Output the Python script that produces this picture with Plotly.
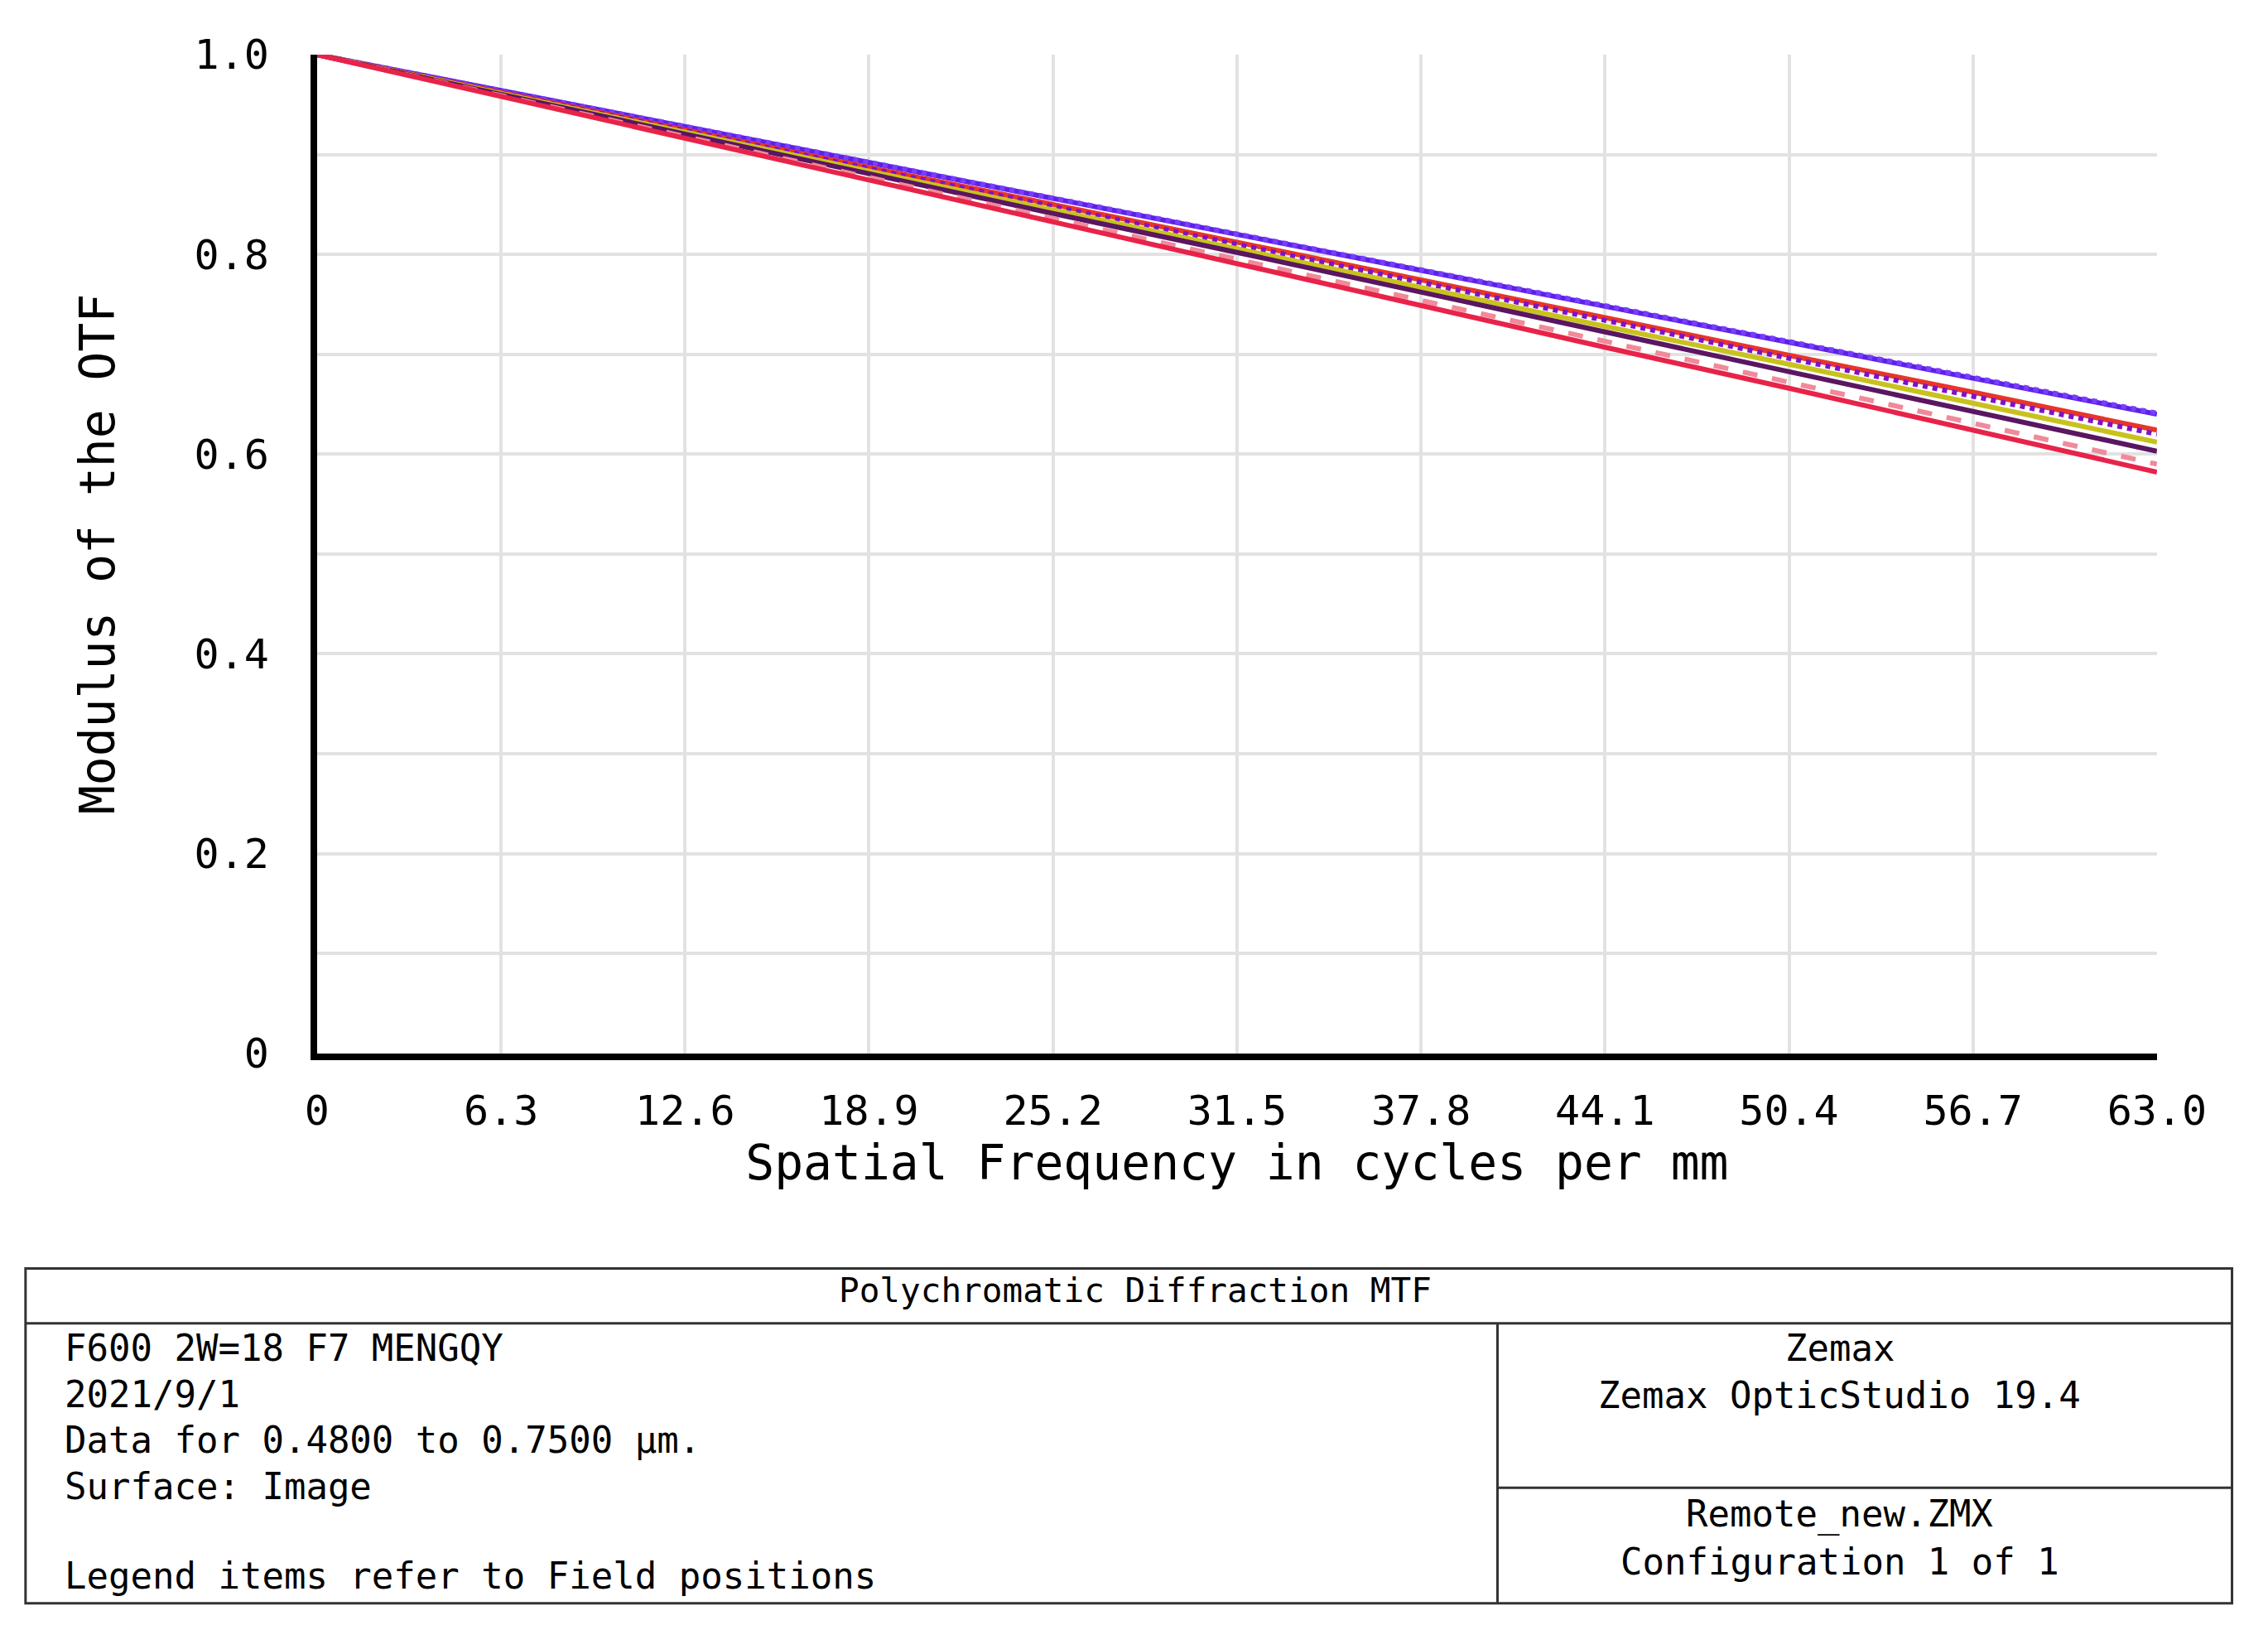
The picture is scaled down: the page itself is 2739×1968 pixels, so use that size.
import plotly.graph_objects as go

W, H = 2739, 1968

freq = [0, 6.3, 12.6, 18.9, 25.2, 31.5, 37.8, 44.1, 50.4, 56.7, 63.0]

blue_t = [1, .964, .928, .892, .856, .820, .784, .748, .712, .676, .640]
blue_s = [1, .964, .929, .893, .857, .821, .785, .749, .713, .677, .641]
red_t = [1, .962, .925, .887, .850, .812, .774, .737, .699, .662, .624]
purple_s = [1, .962, .924, .886, .848, .810, .772, .734, .696, .658, .620]
yellow_t = [1, .961, .922, .884, .845, .806, .767, .728, .690, .651, .612]
dark_t = [1, .960, .921, .881, .841, .802, .762, .722, .682, .643, .603]
pink_s = [1, .959, .918, .877, .836, .795, .754, .713, .672, .631, .590]
crimson_t = [1, .958, .916, .875, .833, .791, .749, .707, .666, .624, .582]

series = [
    (blue_t, "#5b22e6", "solid"),
    (blue_s, "#7a3cff", "dot"),
    (red_t, "#e8352a", "solid"),
    (purple_s, "#7e12c8", "dot"),
    (yellow_t, "#c8c21e", "solid"),
    (dark_t, "#5a1660", "solid"),
    (pink_s, "#f08a9a", "dash"),
    (crimson_t, "#e8234a", "solid"),
]

xticks = [0, 6.3, 12.6, 18.9, 25.2, 31.5, 37.8, 44.1, 50.4, 56.7, 63.0]
xlabels = ["0", "6.3", "12.6", "18.9", "25.2", "31.5", "37.8", "44.1", "50.4", "56.7", "63.0"]
yticks = [0, .1, .2, .3, .4, .5, .6, .7, .8, .9, 1.0]
ylabels = ["0", "", "0.2", "", "0.4", "", "0.6", "", "0.8", "", "1.0"]

MONO = "DejaVu Sans Mono"
S = 1.756

fig = go.Figure()
for ys, c, d in series:
    fig.add_scatter(x=freq, y=ys, mode="lines", line=dict(color=c, dash=d, width=6),
                    showlegend=False)


# positions given in reference display units (~1560 wide)
def px(x):
    return (x - 11.5) / 0.98 * S / W


def py(y):
    return 1 - (y - 19.8) / 0.978 * S / H


fig.update_layout(
    width=W, height=H, margin=dict(l=0, r=0, t=0, b=0),
    paper_bgcolor="white", plot_bgcolor="white",
    font=dict(family=MONO, color="black"),
    xaxis=dict(domain=[px(218), px(1493)], range=[0, 63], tickvals=xticks, ticktext=xlabels,
               showgrid=True, gridcolor="#e2e2e2", gridwidth=4, zeroline=False,
               showline=True, linecolor="black", linewidth=8, ticks="",
               tickfont=dict(size=50), ticklabelstandoff=18,
               title=dict(text="Spatial Frequency in cycles per mm", font=dict(size=58), standoff=4)),
    yaxis=dict(domain=[py(729), py(37)], range=[0, 1], tickvals=yticks, ticktext=ylabels,
               showgrid=True, gridcolor="#e2e2e2", gridwidth=4, zeroline=False,
               showline=True, linecolor="black", linewidth=8, ticks="",
               tickfont=dict(size=50), ticklabelstandoff=40,
               title=dict(text="Modulus of the OTF", font=dict(size=58), standoff=80)),
)

# info box
lw = dict(color="#333333", width=3)
fig.add_shape(type="rect", xref="paper", yref="paper", x0=px(16), x1=px(1545),
              y0=py(1110), y1=py(878), line=lw)
for x0, y0, x1, y1 in [(16, 916, 1545, 916), (1036, 916, 1036, 1110), (1036, 1030, 1545, 1030)]:
    fig.add_shape(type="line", xref="paper", yref="paper", x0=px(x0), x1=px(x1),
                  y0=py(y0), y1=py(y1), line=lw)


def txt(x, y, s, anchor="left", size=44):
    fig.add_annotation(x=px(x), y=py(y), xref="paper", yref="paper", text=s, showarrow=False,
                       xanchor=anchor, yanchor="middle", font=dict(family=MONO, size=size))


txt(785, 893, "Polychromatic Diffraction MTF", "center", 41)
txt(42, 933, "F600 2W=18 F7 MENGQY")
txt(42, 965, "2021/9/1")
txt(42, 997, "Data for 0.4800 to 0.7500 µm.")
txt(42, 1029, "Surface: Image")
txt(42, 1091, "Legend items refer to Field positions")
txt(1273, 933, "Zemax", "center")
txt(1273, 966, "Zemax OpticStudio 19.4", "center")
txt(1273, 1048, "Remote_new.ZMX", "center")
txt(1273, 1081, "Configuration 1 of 1", "center")

fig.write_html("out.html")
